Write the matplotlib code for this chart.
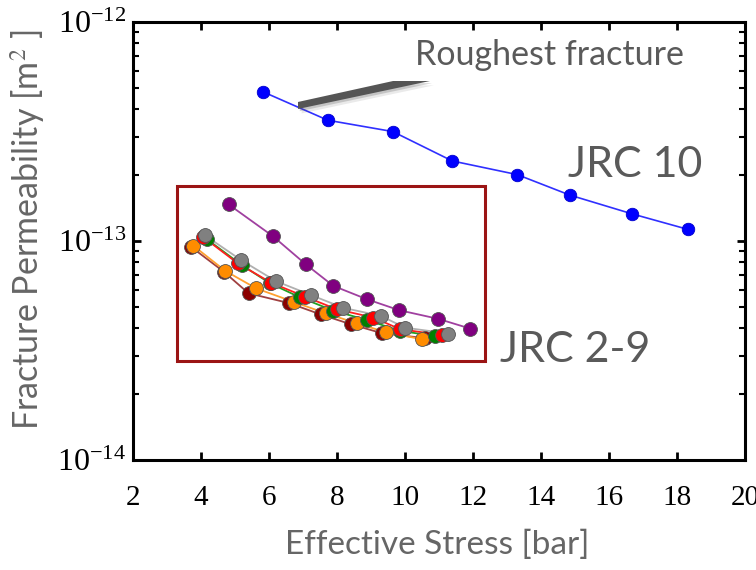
import math
import matplotlib
matplotlib.use("Agg")
import matplotlib.pyplot as plt
from matplotlib.patches import Rectangle, Polygon
from matplotlib.ticker import LogLocator, FixedLocator, NullFormatter, FuncFormatter

plt.rcParams['mathtext.fontset'] = 'stix'

# JRC 10 (roughest fracture)
jrc10_x = [5.81, 7.73, 9.64, 11.39, 13.30, 14.85, 16.68, 18.32]
jrc10_y = [4.81e-13, 3.56e-13, 3.16e-13, 2.32e-13, 2.01e-13, 1.62e-13, 1.33e-13, 1.13e-13]

# JRC 2-9 series
purple_x = [4.81, 6.12, 7.08, 7.89, 8.88, 9.83, 10.98, 11.92]
purple_y = [1.47e-13, 1.05e-13, 7.83e-14, 6.24e-14, 5.42e-14, 4.83e-14, 4.41e-14, 3.98e-14]

darkred_x = [3.70, 4.67, 5.40, 6.60, 7.52, 8.40, 9.33, 10.60]
darkred_y = [9.42e-14, 7.24e-14, 5.77e-14, 5.20e-14, 4.62e-14, 4.17e-14, 3.79e-14, 3.60e-14]

orange_x = [3.77, 4.71, 5.62, 6.74, 7.68, 8.58, 9.44, 10.49]
orange_y = [9.53e-14, 7.31e-14, 6.08e-14, 5.26e-14, 4.67e-14, 4.21e-14, 3.83e-14, 3.56e-14]

green_x = [4.17, 5.20, 6.03, 6.91, 7.89, 8.87, 9.85, 10.88]
green_y = [1.02e-13, 7.76e-14, 6.41e-14, 5.53e-14, 4.81e-14, 4.36e-14, 3.89e-14, 3.68e-14]

red_x = [4.07, 5.08, 6.06, 7.06, 7.99, 9.07, 9.85, 11.08]
red_y = [1.04e-13, 7.91e-14, 6.45e-14, 5.57e-14, 4.88e-14, 4.47e-14, 3.96e-14, 3.72e-14]

gray_x = [4.12, 5.18, 6.20, 7.24, 8.19, 9.29, 10.00, 11.27]
gray_y = [1.06e-13, 8.18e-14, 6.56e-14, 5.66e-14, 4.95e-14, 4.55e-14, 4.02e-14, 3.78e-14]

x_ticks = [2, 4, 6, 8, 10, 12, 14, 16, 18, 20]
y_ticks = [1e-14, 1e-13, 1e-12]

fig = plt.figure(figsize=(7.56, 5.70), dpi=100)
ax = fig.add_axes([133/756, 1 - 460/570, 612/756, 438/570])

ax.set_yscale('log')
ax.set_xlim(2, 20)
ax.set_ylim(1e-14, 1e-12)

ax.plot(jrc10_x, jrc10_y, '-o', color='#3030ff', lw=1.2, ms=9,
        markerfacecolor='#0000ff', markeredgecolor='#0000cc', markeredgewidth=0.6, zorder=5)

series = [
    (purple_x, purple_y, '#800080', '#a040a0'),
    (darkred_x, darkred_y, '#8b0000', '#a04040'),
    (orange_x, orange_y, '#ff8c00', '#ffa030'),
    (green_x, green_y, '#008000', '#20a020'),
    (red_x, red_y, '#ff0000', '#ff2020'),
    (gray_x, gray_y, '#808080', '#b0b0b0'),
]
for i, (xs, ys, c, lc) in enumerate(series):
    ax.plot(xs, ys, '-', color=lc, lw=1.3, zorder=3 + i * 0.1)
    ax.plot(xs, ys, 'o', ms=10, markerfacecolor=c, markeredgecolor='#555555',
            markeredgewidth=0.6, zorder=4 + i * 0.1, linestyle='none')

# red inset box
ax.add_patch(Rectangle((3.29, 2.83e-14), 12.35 - 3.29, 1.78e-13 - 2.83e-14,
                       fill=False, edgecolor='#9b1414', lw=2.2, zorder=2))

# gray wedge pointer (decoration) with soft shadow
for dx, dy, a in [(0.006, -0.010, 0.12), (0.003, -0.005, 0.25), (0.0, 0.0, 1.0)]:
    ax.add_patch(Polygon([(0.2696 + dx, 0.8174 + dy), (0.425 + dx, 0.8653 + dy),
                          (0.4853 + dx, 0.8653 + dy), (0.2696 + dx, 0.8014 + dy)],
                         closed=True, transform=ax.transAxes,
                         facecolor='#555555', edgecolor='none', alpha=a, zorder=6))

txtc = '#5a5a5a'
ax.text(0.461, 0.902, 'Roughest fracture', transform=ax.transAxes,
        fontsize=24.5, color=txtc, family='Lato', ha='left', va='baseline')
ax.text(0.711, 0.646, 'JRC 10', transform=ax.transAxes,
        fontsize=31, color=txtc, family='Lato', ha='left', va='baseline')
ax.text(0.600, 0.224, 'JRC 2-9', transform=ax.transAxes,
        fontsize=31, color=txtc, family='Lato', ha='left', va='baseline')

# ticks
ax.xaxis.set_major_locator(FixedLocator(x_ticks))
ax.yaxis.set_major_locator(FixedLocator(y_ticks))
ax.yaxis.set_minor_locator(LogLocator(base=10, subs=range(2, 10)))
ax.yaxis.set_minor_formatter(NullFormatter())
ax.yaxis.set_major_formatter(FuncFormatter(
    lambda v, p: r'$\mathregular{10^{%d}}$' % round(math.log10(v))))
ax.xaxis.set_major_formatter(FuncFormatter(lambda v, p: '%d' % v))

ax.tick_params(which='both', direction='in', top=True, right=True, color='black')
ax.tick_params(which='major', length=6, width=2)
ax.tick_params(which='minor', length=4, width=1.5)
ax.tick_params(axis='x', which='major', labelsize=21, pad=18)
ax.tick_params(axis='y', which='major', labelsize=23, pad=5)
for lab in ax.get_xticklabels() + ax.get_yticklabels():
    lab.set_family('Liberation Serif')

for s in ax.spines.values():
    s.set_linewidth(2.2)
    s.set_color('black')

ax.set_xlabel('Effective Stress [bar]', fontsize=24, color='#666666', family='Lato')
ax.set_ylabel(r'Fracture Permeability [m$^2$ ]', fontsize=24.5, color='#666666', family='Lato')
ax.xaxis.set_label_coords(0.497, -0.160)
ax.yaxis.set_label_coords(-0.140, 0.525)

fig.savefig('out.png', dpi=100)
